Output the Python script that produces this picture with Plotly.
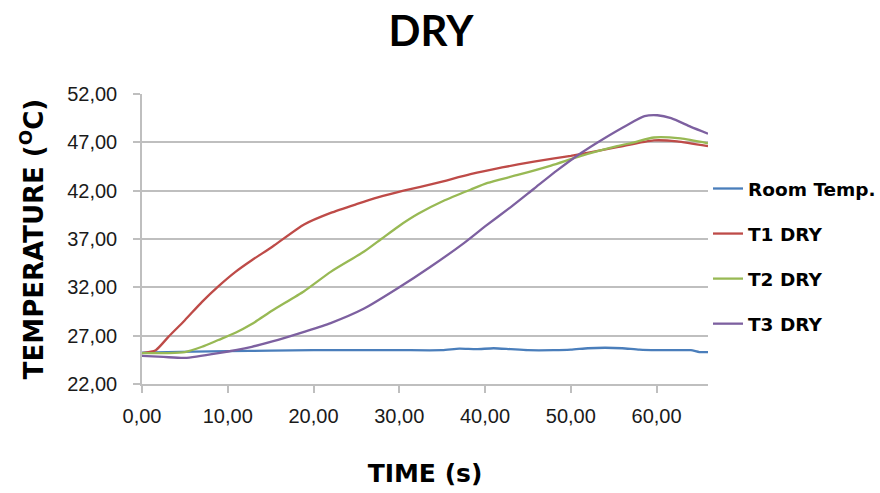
import plotly.graph_objects as go

# ---- data ----
room_t = [0, 3, 6, 10, 15, 20, 25, 30, 35, 37, 39, 41, 43, 45, 48, 50, 52, 54, 56, 58, 60, 62, 64, 65, 66]
room_v = [25.25, 25.3, 25.35, 25.4, 25.45, 25.5, 25.5, 25.5, 25.5, 25.65, 25.6, 25.7, 25.6, 25.5, 25.5, 25.55, 25.7, 25.75, 25.7, 25.55, 25.5, 25.5, 25.5, 25.3, 25.3]

t1_t = [0, 1.6, 3.1, 5, 7, 8.9, 10.9, 12.8, 15.2, 18.9, 22, 25, 27.5, 30.5, 34.4, 38.3, 42, 45.7, 50, 55.4, 59.7, 62.4, 66]
t1_v = [25.2, 25.5, 26.9, 28.6, 30.5, 32.1, 33.6, 34.8, 36.2, 38.5, 39.7, 40.6, 41.3, 42.0, 42.8, 43.7, 44.4, 45.0, 45.6, 46.5, 47.2, 47.1, 46.6]

t2_t = [0, 3, 5, 7, 8.9, 10.9, 12.8, 15.2, 18.9, 22, 25.9, 27.9, 29.9, 32.2, 35.3, 38.3, 40.3, 43.7, 47.7, 51.2, 55.4, 57.4, 59.7, 62.8, 66]
t2_v = [25.2, 25.2, 25.3, 25.85, 26.55, 27.3, 28.2, 29.6, 31.6, 33.6, 35.7, 37.0, 38.3, 39.6, 41.0, 42.1, 42.8, 43.6, 44.6, 45.6, 46.6, 47.0, 47.5, 47.4, 46.9]

t3_t = [0, 2.5, 5, 8.9, 12.8, 15.2, 18.9, 22, 25.9, 30, 33.6, 37.5, 40, 43, 45.7, 48.4, 51.2, 53.5, 56.6, 58.6, 60.1, 61.7, 64, 66]
t3_v = [24.9, 24.8, 24.7, 25.2, 25.85, 26.4, 27.4, 28.3, 29.8, 32.0, 34.1, 36.55, 38.3, 40.3, 42.2, 44.1, 45.9, 47.2, 48.8, 49.7, 49.8, 49.5, 48.6, 47.9]

series = [
    ("Room Temp.", room_t, room_v, "#4A7EBB"),
    ("T1 DRY", t1_t, t1_v, "#BE4B48"),
    ("T2 DRY", t2_t, t2_v, "#98B954"),
    ("T3 DRY", t3_t, t3_v, "#7D60A0"),
]

x_ticks = [0, 10, 20, 30, 40, 50, 60]
y_ticks = [22, 27, 32, 37, 42, 47, 52]

fig = go.Figure()
for i, (name, xs, ys, col) in enumerate(series):
    fig.add_trace(go.Scatter(
        x=xs, y=ys, mode="lines", name=name, legendgroup=f"g{i}",
        line=dict(color=col, width=2.3, shape="spline", smoothing=0.6),
    ))

fig.update_layout(
    width=880, height=493,
    margin=dict(l=142, r=172, t=94, b=109, autoexpand=False),
    paper_bgcolor="white", plot_bgcolor="white",
    title=dict(text="<b>DRY</b>", x=431 / 880, xanchor="center",
               y=1 - 31 / 493, yanchor="middle",
               font=dict(family="Lato", size=42, color="black")),
    legend=dict(x=1.0, xanchor="left", y=0.738, yanchor="top",
                font=dict(family="DejaVu Sans", size=18.5, color="black", weight="bold"),
                tracegroupgap=18, bgcolor="rgba(0,0,0,0)"),
    showlegend=True,
)

fig.update_xaxes(
    range=[0, 66], tickvals=x_ticks,
    ticktext=[f"{v:.2f}".replace(".", ",") for v in x_ticks],
    showgrid=False, zeroline=False,
    showline=True, linecolor="#BFBFBF", linewidth=1.5,
    ticks="outside", ticklen=7, tickcolor="#BFBFBF", tickwidth=1.5,
    ticklabelstandoff=6,
    tickfont=dict(family="Liberation Sans", size=20, color="#1a1a1a"),
    title=dict(text="<b>TIME (s)</b>", standoff=39,
               font=dict(family="DejaVu Sans", size=25, color="black")),
)
fig.update_yaxes(
    range=[22, 52], tickvals=y_ticks,
    ticktext=[f"{v:.2f}".replace(".", ",") for v in y_ticks],
    showgrid=True, gridcolor="#BFBFBF", gridwidth=1.5, zeroline=False,
    showline=True, linecolor="#BFBFBF", linewidth=1.5,
    ticks="outside", ticklen=7, tickcolor="#BFBFBF", tickwidth=1.5,
    ticklabelstandoff=12,
    tickfont=dict(family="Liberation Sans", size=20, color="#1a1a1a"),
    title=dict(text="<b>TEMPERATURE (<sup>O</sup>C)</b>", standoff=16,
               font=dict(family="DejaVu Sans", size=26, color="black")),
)

fig.write_html("out.html")
